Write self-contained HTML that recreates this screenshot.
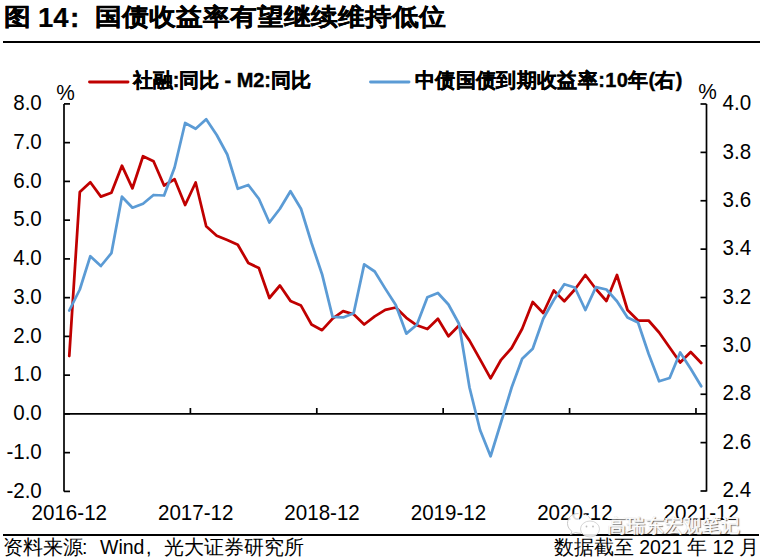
<!DOCTYPE html>
<html><head><meta charset="utf-8">
<style>
html,body{margin:0;padding:0;background:#fff;}
body{width:763px;height:560px;overflow:hidden;position:relative;font-family:"Liberation Sans",sans-serif;color:#000;}
svg{position:absolute;left:0;top:0;}
.t{position:absolute;white-space:nowrap;line-height:1;}
.b{font-weight:bold;-webkit-text-stroke:0.35px #000;}
</style></head><body>
<svg width="763" height="560" viewBox="0 0 763 560" font-family="Liberation Sans, sans-serif">
<rect x="0" y="0" width="763" height="560" fill="#fff"/>
<rect x="3" y="41" width="757" height="2" fill="#000"/>
<rect x="3" y="534" width="756" height="2" fill="#000"/>
<g stroke="#000" stroke-width="1.7" fill="none">
<line x1="64" y1="103.9" x2="64" y2="491.4"/>
<line x1="706.5" y1="104" x2="706.5" y2="491.4"/>
<line x1="64" y1="413.9" x2="706.5" y2="413.9"/>
<line x1="64" y1="491.40" x2="70" y2="491.40"/><line x1="64" y1="452.65" x2="70" y2="452.65"/><line x1="64" y1="413.90" x2="70" y2="413.90"/><line x1="64" y1="375.15" x2="70" y2="375.15"/><line x1="64" y1="336.40" x2="70" y2="336.40"/><line x1="64" y1="297.65" x2="70" y2="297.65"/><line x1="64" y1="258.90" x2="70" y2="258.90"/><line x1="64" y1="220.15" x2="70" y2="220.15"/><line x1="64" y1="181.40" x2="70" y2="181.40"/><line x1="64" y1="142.65" x2="70" y2="142.65"/><line x1="64" y1="103.90" x2="70" y2="103.90"/><line x1="700.5" y1="491.00" x2="706.5" y2="491.00"/><line x1="700.5" y1="442.62" x2="706.5" y2="442.62"/><line x1="700.5" y1="394.25" x2="706.5" y2="394.25"/><line x1="700.5" y1="345.88" x2="706.5" y2="345.88"/><line x1="700.5" y1="297.50" x2="706.5" y2="297.50"/><line x1="700.5" y1="249.13" x2="706.5" y2="249.13"/><line x1="700.5" y1="200.75" x2="706.5" y2="200.75"/><line x1="700.5" y1="152.38" x2="706.5" y2="152.38"/><line x1="700.5" y1="104.00" x2="706.5" y2="104.00"/><line x1="190.39" y1="408" x2="190.39" y2="414"/><line x1="316.79" y1="408" x2="316.79" y2="414"/><line x1="443.18" y1="408" x2="443.18" y2="414"/><line x1="569.57" y1="408" x2="569.57" y2="414"/><line x1="695.97" y1="408" x2="695.97" y2="414"/>
</g>
<g font-size="22" fill="#000"><text transform="translate(41.8 497.60) scale(0.935 1)" text-anchor="end">-2.0</text><text transform="translate(41.8 458.85) scale(0.935 1)" text-anchor="end">-1.0</text><text transform="translate(41.8 420.10) scale(0.935 1)" text-anchor="end">0.0</text><text transform="translate(41.8 381.35) scale(0.935 1)" text-anchor="end">1.0</text><text transform="translate(41.8 342.60) scale(0.935 1)" text-anchor="end">2.0</text><text transform="translate(41.8 303.85) scale(0.935 1)" text-anchor="end">3.0</text><text transform="translate(41.8 265.10) scale(0.935 1)" text-anchor="end">4.0</text><text transform="translate(41.8 226.35) scale(0.935 1)" text-anchor="end">5.0</text><text transform="translate(41.8 187.60) scale(0.935 1)" text-anchor="end">6.0</text><text transform="translate(41.8 148.85) scale(0.935 1)" text-anchor="end">7.0</text><text transform="translate(41.8 110.10) scale(0.935 1)" text-anchor="end">8.0</text><text transform="translate(722.6 497.20) scale(0.935 1)">2.4</text><text transform="translate(722.6 448.82) scale(0.935 1)">2.6</text><text transform="translate(722.6 400.45) scale(0.935 1)">2.8</text><text transform="translate(722.6 352.07) scale(0.935 1)">3.0</text><text transform="translate(722.6 303.70) scale(0.935 1)">3.2</text><text transform="translate(722.6 255.33) scale(0.935 1)">3.4</text><text transform="translate(722.6 206.95) scale(0.935 1)">3.6</text><text transform="translate(722.6 158.58) scale(0.935 1)">3.8</text><text transform="translate(722.6 110.20) scale(0.935 1)">4.0</text><text transform="translate(69.27 520) scale(0.935 1)" text-anchor="middle">2016-12</text><text transform="translate(195.66 520) scale(0.935 1)" text-anchor="middle">2017-12</text><text transform="translate(322.05 520) scale(0.935 1)" text-anchor="middle">2018-12</text><text transform="translate(448.45 520) scale(0.935 1)" text-anchor="middle">2019-12</text><text transform="translate(574.84 520) scale(0.935 1)" text-anchor="middle">2020-12</text><text transform="translate(701.23 520) scale(0.935 1)" text-anchor="middle">2021-12</text>
<text transform="translate(56.2 100) scale(0.95 1)">%</text><text transform="translate(698.3 99) scale(0.95 1)">%</text>
</g>
<polyline points="69.27,356.00 79.80,192.10 90.33,182.30 100.86,196.60 111.40,192.80 121.93,165.70 132.46,188.30 143.00,156.20 153.53,161.20 164.06,185.50 174.59,179.20 185.13,205.00 195.66,182.50 206.19,226.20 216.73,235.70 227.26,240.00 237.79,244.70 248.32,263.00 258.86,268.00 269.39,298.00 279.92,285.50 290.45,300.90 300.99,305.60 311.52,324.50 322.05,330.20 332.59,318.60 343.12,311.10 353.65,314.30 364.18,324.50 374.72,316.30 385.25,309.80 395.78,307.50 406.32,317.80 416.85,325.30 427.38,329.00 437.91,318.75 448.45,336.25 458.98,325.50 469.51,340.60 480.05,359.40 490.58,378.40 501.11,359.80 511.64,348.00 522.18,328.75 532.71,302.00 543.24,313.00 553.77,290.50 564.31,301.25 574.84,289.50 585.37,275.00 595.91,289.00 606.44,301.00 616.97,275.00 627.50,310.00 638.04,320.50 648.57,320.50 659.10,332.50 669.64,347.50 680.17,362.50 690.70,352.00 701.23,363.00" fill="none" stroke="#C00000" stroke-width="2.75" stroke-linejoin="round" stroke-linecap="round"/>
<polyline points="69.27,310.50 79.80,289.50 90.33,256.20 100.86,266.00 111.40,253.20 121.93,196.70 132.46,207.70 143.00,203.75 153.53,195.00 164.06,195.50 174.59,167.50 185.13,123.00 195.66,128.75 206.19,119.25 216.73,135.00 227.26,154.50 237.79,188.75 248.32,185.00 258.86,198.75 269.39,222.50 279.92,208.75 290.45,191.25 300.99,208.75 311.52,243.00 322.05,274.20 332.59,316.90 343.12,317.45 353.65,313.20 364.18,264.40 374.72,271.50 385.25,288.60 395.78,305.00 406.32,333.60 416.85,324.75 427.38,297.20 437.91,293.00 448.45,304.50 458.98,323.75 469.51,387.50 480.05,430.00 490.58,456.25 501.11,422.00 511.64,387.50 522.18,358.75 532.71,348.75 543.24,318.75 553.77,300.00 564.31,284.25 574.84,287.50 585.37,310.00 595.91,287.20 606.44,289.50 616.97,301.25 627.50,317.50 638.04,322.50 648.57,353.75 659.10,381.25 669.64,378.00 680.17,352.50 690.70,368.75 701.23,386.25" fill="none" stroke="#5B9BD5" stroke-width="2.75" stroke-linejoin="round" stroke-linecap="round"/>
<line x1="89.5" y1="82" x2="128" y2="82" stroke="#C00000" stroke-width="2.9" stroke-linecap="round"/>
<line x1="370.5" y1="82" x2="409" y2="82" stroke="#5B9BD5" stroke-width="2.9" stroke-linecap="round"/>
</svg>
<div class="t b" style="left:4px;top:3px;font-size:27px;transform:scaleY(0.9);transform-origin:0 25px;">图</div>
<div class="t b" style="left:38px;top:4px;font-size:27.5px;-webkit-text-stroke:0.2px #000;">14</div>
<div class="t b" style="left:70px;top:4px;font-size:28px;">:</div>
<div class="t b" style="left:95px;top:3px;font-size:27px;transform:scaleY(0.9);transform-origin:0 25px;">国债收益率有望继续维持低位</div>
<div class="t b" style="left:133px;top:70px;font-size:20px;letter-spacing:-0.1px;">社融:同比 - M2:同比</div>
<div class="t b" style="left:415px;top:70px;font-size:20px;letter-spacing:0.35px;">中债国债到期收益率:10年(右)</div>
<div class="t" style="left:3px;top:538px;font-size:19.5px;">资料来源</div>
<div class="t" style="left:82px;top:538px;font-size:19.5px;">:</div>
<div class="t" style="left:100px;top:538px;font-size:19.5px;">Wind</div>
<div class="t" style="left:146px;top:538px;font-size:19.5px;">,</div>
<div class="t" style="left:164px;top:538px;font-size:19.5px;">光大证券研究所</div>
<div class="t" style="right:4px;top:538px;font-size:19.5px;word-spacing:-0.5px;">数据截至 2021 年 12 月</div>
<svg width="763" height="560" viewBox="0 0 763 560" style="position:absolute;left:0;top:0;">
<path d="M578.5,513.5 C571,513.5 567.5,518.5 567.5,523.5 C567.5,527 569.5,529.5 572,531.5 L570.5,534.5 L575.5,532.5 C577,533 579,533.3 581,533.3" fill="rgba(255,255,255,0.85)" stroke="#bbb" stroke-width="0.8"/>
<ellipse cx="590" cy="529" rx="9.5" ry="8" fill="rgba(255,255,255,0.88)" stroke="#ccc" stroke-width="0.8"/>
<path d="M582,513.6 C586,514 589,516 590.5,519" fill="none" stroke="#ccc" stroke-width="0.8"/>
<circle cx="586.5" cy="526.5" r="0.9" fill="#bbb"/><circle cx="593" cy="526.5" r="0.9" fill="#bbb"/>
</svg>
<div class="t" style="left:606.5px;top:517px;font-size:18.8px;color:#fff;-webkit-text-stroke:0.5px #fff;text-shadow:1px 1px 1px rgba(40,40,40,0.85),0 0 0.6px rgba(90,90,90,0.7);">高瑞东宏观笔记</div>
</body></html>
